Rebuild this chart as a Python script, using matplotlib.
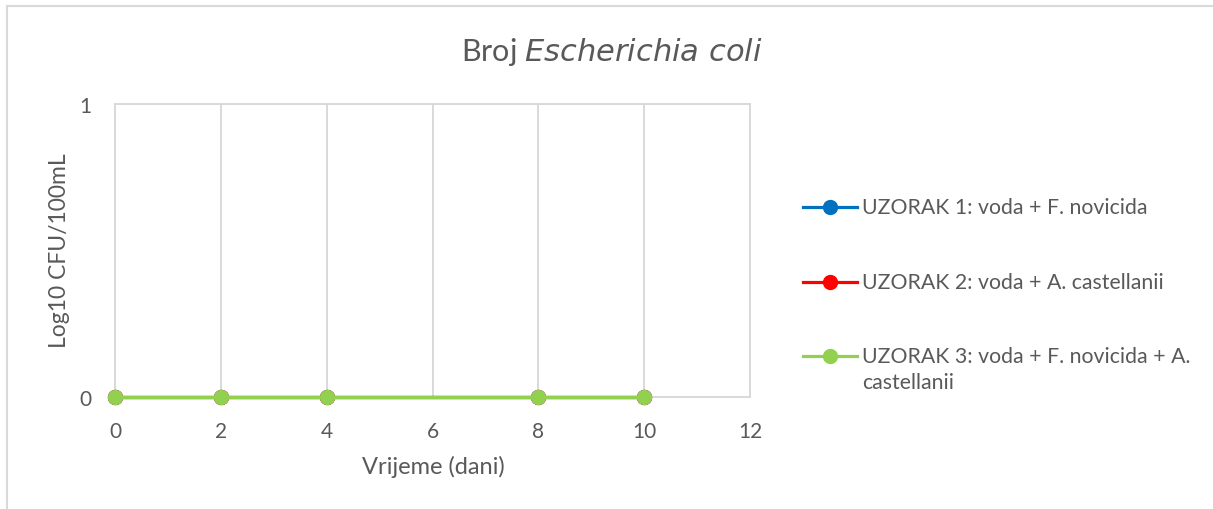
import matplotlib
matplotlib.use("Agg")
import matplotlib.pyplot as plt
from matplotlib.lines import Line2D

plt.rcParams['font.family'] = ['Lato', 'DejaVu Sans']

days = [0, 2, 4, 8, 10]
uzorak1 = [0, 0, 0, 0, 0]
uzorak2 = [0, 0, 0, 0, 0]
uzorak3 = [0, 0, 0, 0, 0]
series_labels = [["UZORAK 1: voda + F. novicida"],
                 ["UZORAK 2: voda + A. castellanii"],
                 ["UZORAK 3: voda + F. novicida + A.", "castellanii"]]
series_colors = ["#0070C0", "#FF0000", "#92D050"]
x_ticks = [0, 2, 4, 6, 8, 10, 12]
y_ticks = [0, 1]

W, H = 1213, 510
fig = plt.figure(figsize=(W / 100, H / 100), dpi=100)
ax = fig.add_axes([115 / W, 1 - 398 / H, (750 - 115) / W, (398 - 105) / H])

grid_c = "#D9D9D9"
txt_c = "#595959"

for ys, col in zip([uzorak1, uzorak2, uzorak3], series_colors):
    ax.plot(days, ys, color=col, lw=2.3, marker='o', ms=10, mec=col, mfc=col,
            zorder=3, clip_on=False)

ax.set_xlim(0, 12)
ax.set_ylim(0, 1)
ax.set_xticks(x_ticks)
ax.set_yticks(y_ticks)
ax.grid(axis='x', color=grid_c, lw=1.4)
ax.grid(axis='y', color=grid_c, lw=1.4)
for s in ax.spines.values():
    s.set_color(grid_c)
    s.set_linewidth(1.4)
ax.tick_params(length=0, labelsize=15, labelcolor=txt_c)
ax.tick_params(axis='x', pad=17)
ax.tick_params(axis='y', pad=17)

ax.set_xlabel("Vrijeme (dani)", fontsize=17, color=txt_c, va='center')
ax.xaxis.set_label_coords(433 / W, 1 - 467 / H, transform=fig.transFigure)
ax.set_ylabel("Log10 CFU/100mL", fontsize=16.5, color=txt_c, va='center')
ax.yaxis.set_label_coords(60 / W, 1 - 251 / H, transform=fig.transFigure)

fig.text(612 / W, 1 - 52 / H, r"Broj $\it{Escherichia\ coli}$", ha='center', va='center',
         fontsize=22, color=txt_c)

# legend drawn manually
leg_y = [208, 283, 357]
for y, col, lines in zip(leg_y, series_colors, series_labels):
    fy = 1 - y / H
    fig.add_artist(Line2D([803 / W, 857 / W], [fy, fy], color=col, lw=2.3,
                          transform=fig.transFigure))
    fig.add_artist(Line2D([830 / W], [fy], color=col, marker='o', ms=10,
                          transform=fig.transFigure))
    for i, ln in enumerate(lines):
        fig.text(862 / W, 1 - (y + 26 * i) / H, ln, ha='left', va='center',
                 fontsize=15.3, color=txt_c)

# outer chart border (only left and top visible)
fig.add_artist(Line2D([7 / W, 7 / W], [0, 1 - 7 / H], color=grid_c, lw=1.5,
                      transform=fig.transFigure))
fig.add_artist(Line2D([7 / W, 1], [1 - 7 / H, 1 - 7 / H], color=grid_c, lw=1.5,
                      transform=fig.transFigure))

fig.savefig("out.png", dpi=100)
